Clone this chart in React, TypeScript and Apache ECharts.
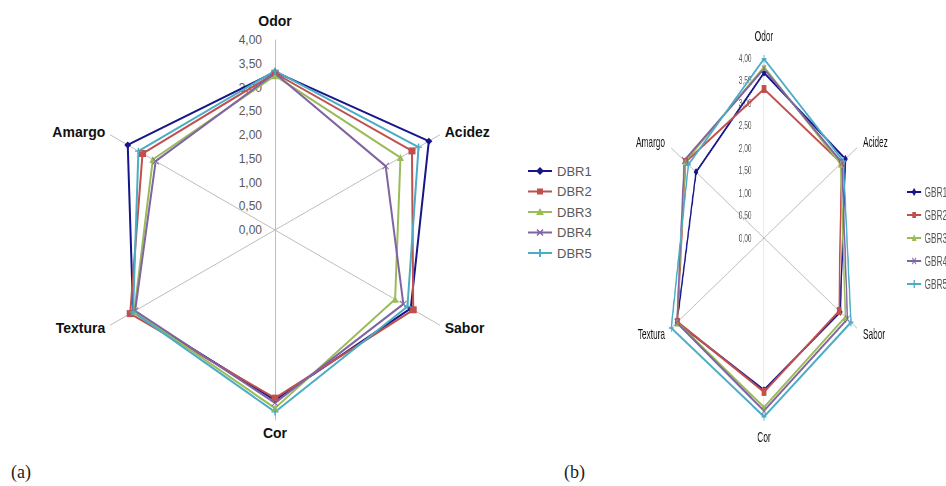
import React, { useEffect, useRef } from 'react';
import * as echarts from 'echarts';

// Axes listed clockwise from the top
const axesNames = ['Odor', 'Acidez', 'Sabor', 'Cor', 'Textura', 'Amargo'];
const tickValues = [0, 0.5, 1, 1.5, 2, 2.5, 3, 3.5, 4];

const namesA = ['DBR1', 'DBR2', 'DBR3', 'DBR4', 'DBR5'];
const dbr1 = [3.33, 3.74, 3.3, 3.58, 3.45, 3.58];
const dbr2 = [3.3, 3.33, 3.36, 3.54, 3.52, 3.22];
const dbr3 = [3.25, 3.05, 2.92, 3.75, 3.42, 2.97];
const dbr4 = [3.3, 2.69, 3.12, 3.64, 3.4, 2.9];
const dbr5 = [3.35, 3.49, 3.22, 3.83, 3.45, 3.32];

const namesB = ['GBR1', 'GBR2', 'GBR3', 'GBR4', 'GBR5'];
const gbr1 = [3.67, 3.51, 3.29, 3.38, 3.75, 2.93];
const gbr2 = [3.31, 3.33, 3.24, 3.42, 3.73, 3.38];
const gbr3 = [3.8, 3.3, 3.51, 3.76, 3.75, 3.4];
const gbr4 = [3.76, 3.36, 3.6, 3.84, 3.76, 3.44];
const gbr5 = [3.98, 3.42, 3.75, 3.97, 4.0, 3.26];

const colors = ['#16168a', '#c0504d', '#9bbb59', '#8064a2', '#4bacc6'];
const symbols = [
  'diamond',
  'rect',
  'triangle',
  'path://M0,1L1,0L5,4L9,0L10,1L6,5L10,9L9,10L5,6L1,10L0,9L4,5Z',
  'path://M4,0H6V4H10V6H6V10H4V6H0V4H4Z',
];
const legendIcons = [
  'path://M0 0M24 14M0 6H24V8H0ZM12 3L16 7L12 11L8 7Z',
  'path://M0 0M24 14M0 6H24V8H0ZM9 4H15V10H9Z',
  'path://M0 0M24 14M0 6H24V8H0ZM12 3L16 10H8Z',
  'path://M0 0M24 14M0 6H24V8H0ZM8.5 4.5L9.5 3.5L12 6L14.5 3.5L15.5 4.5L13 7L15.5 9.5L14.5 10.5L12 8L9.5 10.5L8.5 9.5L11 7Z',
  'path://M0 0M24 14M0 6H24V8H0ZM11 3H13V6H16V8H13V11H11V8H8V6H11Z',
];

// ECharts radar lays indicators out counter-clockwise from the top
const radarOrder = [0, 5, 4, 3, 2, 1];
const FONT = '"Liberation Sans", Arial, sans-serif';

function buildOption(cfg: any) {
  const { cx, cy, R, names, values, nameSize, nameWeight, nameGap, odorPad, tickSize, tickMargin, legend, lineWidth, symbolSize, graphic } = cfg;
  return {
    animation: false,
    radar: {
      center: [cx, cy],
      radius: R,
      startAngle: 90,
      shape: 'polygon',
      splitNumber: 8,
      nameGap,
      indicator: radarOrder.map((i) => ({ name: axesNames[i], min: 0, max: 4 })),
      axisName: {
        color: '#111',
        fontSize: nameSize,
        fontWeight: nameWeight,
        fontFamily: FONT,
        formatter: (n: string) => (n === 'Odor' ? `{o|${n}}` : n),
        rich: {
          o: { color: '#111', fontSize: nameSize, fontWeight: nameWeight, fontFamily: FONT, padding: [0, 0, odorPad, 0] },
        },
      },
      splitLine: { show: false },
      splitArea: { show: false },
      axisTick: { show: false },
      axisLabel: { show: false },
      axisLine: { lineStyle: { color: '#bdbdbd', width: 1 } },
    },
    grid: { left: cx - 1, width: 2, top: cy - R, height: R, outerBoundsMode: 'none' },
    xAxis: { type: 'value', show: false, min: 0, max: 1 },
    yAxis: {
      type: 'value',
      min: tickValues[0],
      max: tickValues[tickValues.length - 1],
      interval: tickValues[1] - tickValues[0],
      axisLine: { show: false },
      axisTick: { show: false },
      splitLine: { show: false },
      axisLabel: {
        margin: tickMargin,
        color: '#595959',
        fontSize: tickSize,
        fontFamily: FONT,
        formatter: (v: number) => v.toFixed(2).replace('.', ','),
      },
    },
    legend: {
      orient: 'vertical',
      left: legend.left,
      top: legend.top,
      itemWidth: legend.itemWidth,
      itemHeight: 14,
      itemGap: legend.itemGap,
      textStyle: { color: '#595959', fontSize: legend.fontSize, fontFamily: FONT },
      itemStyle: { borderWidth: 0 },
      data: names.map((n: string, i: number) => ({ name: n, icon: legendIcons[i] })),
    },
    series: [
      {
        type: 'radar',
        data: names.map((n: string, i: number) => ({
          name: n,
          value: radarOrder.map((k) => values[i][k]),
          symbol: symbols[i],
          symbolSize: symbolSize,
          lineStyle: { color: colors[i], width: lineWidth },
          itemStyle: { color: colors[i], borderColor: colors[i], borderWidth: 0 },
        })),
      },
    ],
    graphic,
  };
}

const SX = 0.595;

export default function App() {
  const refA = useRef<HTMLDivElement>(null);
  const refB = useRef<HTMLDivElement>(null);
  useEffect(() => {
    const a = echarts.init(refA.current!, null, { renderer: 'svg' });
    const b = echarts.init(refB.current!, null, { renderer: 'svg' });
    a.setOption(
      buildOption({
        cx: 275,
        cy: 230,
        R: 190,
        names: namesA,
        values: [dbr1, dbr2, dbr3, dbr4, dbr5],
        nameSize: 14,
        nameWeight: 'bold',
        nameGap: 6,
        odorPad: 6,
        tickSize: 12,
        tickMargin: 12,
        lineWidth: 2,
        symbolSize: 7,
        legend: { left: 523, top: 159, itemWidth: 24, itemGap: 6.5, fontSize: 13 },
        graphic: [
          { type: 'text', left: 11, top: 463, style: { text: '(a)', font: '18px "Liberation Serif", "DejaVu Serif", serif', fill: '#222' } },
          { type: 'text', left: 564, top: 463, style: { text: '(b)', font: '18px "Liberation Serif", "DejaVu Serif", serif', fill: '#222' } },
        ],
      }) as any
    );
    b.setOption(
      buildOption({
        cx: (764 - 600) / SX,
        cy: 238,
        R: 180,
        names: namesB,
        values: [gbr1, gbr2, gbr3, gbr4, gbr5],
        nameSize: 14,
        nameWeight: 'normal',
        nameGap: 12,
        odorPad: 3,
        tickSize: 11,
        tickMargin: 20,
        lineWidth: 2.4,
        symbolSize: 8,
        legend: { left: (907 - 600) / SX - 5, top: 180, itemWidth: 25, itemGap: 9, fontSize: 14 },
        graphic: [],
      }) as any
    );
    return () => {
      a.dispose();
      b.dispose();
    };
  }, []);
  return (
    <div style={{ position: 'absolute', left: 0, top: 0, width: 946, height: 486, background: '#fff', overflow: 'hidden' }}>
      <div ref={refA} style={{ position: 'absolute', left: 0, top: 0, width: 600, height: 486 }} />
      <div
        ref={refB}
        style={{
          position: 'absolute',
          left: 600,
          top: 0,
          width: 346 / SX,
          height: 486,
          transform: `scaleX(${SX})`,
          transformOrigin: '0 0',
          willChange: 'transform',
          background: '#fff',
        }}
      />
    </div>
  );
}
